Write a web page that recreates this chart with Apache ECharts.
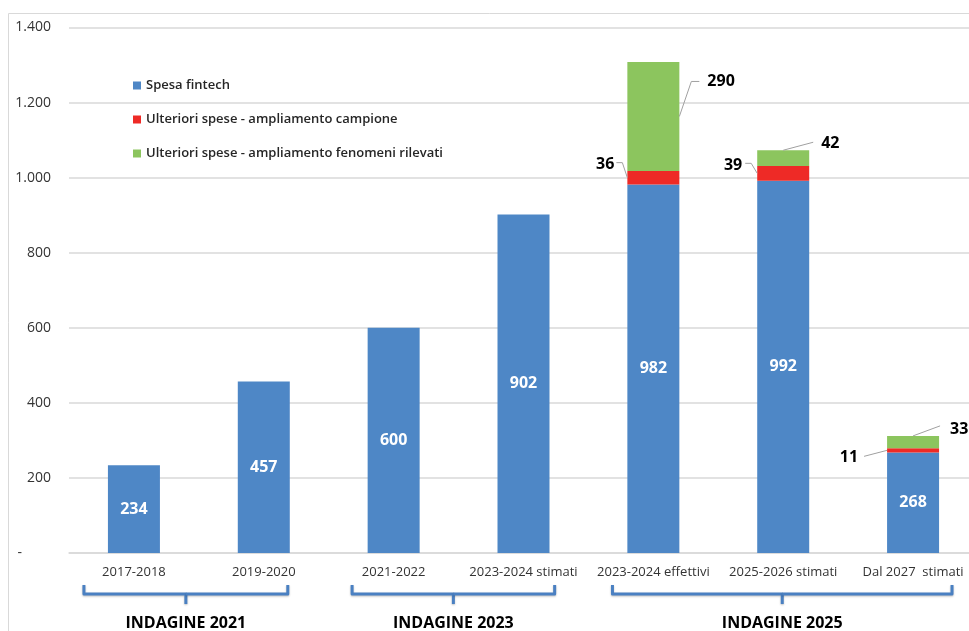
<!DOCTYPE html>
<html>
<head>
<meta charset="utf-8">
<script src="https://cdn.jsdelivr.net/npm/echarts@6/dist/echarts.min.js"></script>
<style>
html, body { margin: 0; padding: 0; background: #fff; }
#chart { width: 969px; height: 631px; }
</style>
</head>
<body>
<div id="chart"></div>
<script>
const categories = ['2017-2018', '2019-2020', '2021-2022', '2023-2024 stimati', '2023-2024 effettivi', '2025-2026 stimati', 'Dal 2027  stimati'];
const spesaFintech = [234, 457, 600, 902, 982, 992, 268];
const ampCampione = [null, null, null, null, 36, 39, 11];
const ampFenomeni = [null, null, null, null, 290, 42, 33];
const seriesNames = ['Spesa fintech', 'Ulteriori spese - ampliamento campione', 'Ulteriori spese - ampliamento fenomeni rilevati'];
const groupNames = ['INDAGINE 2021', 'INDAGINE 2023', 'INDAGINE 2025'];
const groupRanges = [[0, 1], [2, 3], [4, 6]];

const color = {
    blue: '#4E87C6',
    red: '#EE2A26',
    green: '#8CC55E',
    grid: '#D9D9D9',
    text: '#333333',
    guide: '#A0A0A0',
    bracket: '#4A80C2',
};
const font = "'Open Sans', 'Noto Sans', sans-serif";
const barWidth = 52;

// callout label offsets (dx, dy per data index)
const redOffsets = { 4: [-8, -13], 5: [-10, -8], 6: [-24, 7] };
const greenOffsets = { 4: [23, -35], 5: [7, -15], 6: [6, -13] };
// callout guide shapes: anchor on the segment + path offsets towards the label
const redGuides = { 4: [[-5, -15], [-11, -15]], 5: [[-6, -10], [-12, -10]], 6: [[-23, 6]] };
const greenGuides = {
    4: { anchor: 'side', pts: [[12, -35], [20, -35]] },
    5: { anchor: 'top', pts: [[30, -8]] },
    6: { anchor: 'top', pts: [[27, -10]] },
};
// bracket overhang (fraction of a category band) left / right of each group
const bracketPad = [[0.385, 0.185], [0.32, 0.24], [0.315, 0.3]];

const fmtThousands = function (v) {
    if (v === 0) return '-        ';
    return String(v).replace(/\B(?=(\d{3})+(?!\d))/g, '.');
};

const chart = echarts.init(document.getElementById('chart'), null, { renderer: 'canvas' });

const calloutLabel = {
    show: true,
    color: '#000',
    fontFamily: font,
    fontWeight: 'bold',
    fontSize: 16,
};

chart.setOption({
    animation: false,
    textStyle: { fontFamily: font },
    legend: {
        orient: 'vertical',
        left: 128,
        top: 74,
        itemWidth: 8,
        itemHeight: 8,
        itemGap: 21,
        icon: 'rect',
        textStyle: { color: '#262626', fontSize: 13, fontFamily: font, fontWeight: 600 },
        data: seriesNames,
    },
    grid: {
        left: 69,
        width: 909,
        top: 27.5,
        bottom: 78,
        containLabel: false,
        outerBoundsMode: 'none',
    },
    xAxis: {
        type: 'category',
        data: categories,
        axisLine: { show: true, lineStyle: { color: color.grid, width: 1.5 } },
        axisTick: { show: false },
        axisLabel: { color: color.text, fontSize: 13, margin: 13, fontFamily: font, interval: 0 },
    },
    yAxis: {
        type: 'value',
        min: 0,
        max: 1400,
        interval: 200,
        axisLine: { show: false },
        axisTick: { show: false },
        splitLine: { lineStyle: { color: color.grid, width: 1.5 } },
        axisLabel: { color: color.text, fontSize: 14, margin: 18, fontFamily: font, formatter: fmtThousands },
    },
    series: [
        {
            name: seriesNames[0],
            type: 'bar',
            stack: 'tot',
            barWidth: barWidth,
            itemStyle: { color: color.blue },
            label: {
                show: true,
                position: 'inside',
                color: '#fff',
                fontFamily: font,
                fontWeight: 'bold',
                fontSize: 16,
            },
            data: spesaFintech,
        },
        {
            name: seriesNames[1],
            type: 'bar',
            stack: 'tot',
            barWidth: barWidth,
            itemStyle: { color: color.red },
            label: Object.assign({ position: 'left', distance: 5 }, calloutLabel),
            labelLayout: function (params) {
                const o = redOffsets[params.dataIndex] || [0, 0];
                return { dx: o[0], dy: o[1] };
            },
            data: ampCampione,
        },
        {
            name: seriesNames[2],
            type: 'bar',
            stack: 'tot',
            barWidth: barWidth,
            itemStyle: { color: color.green },
            label: Object.assign({ position: 'right', distance: 5 }, calloutLabel),
            labelLayout: function (params) {
                const o = greenOffsets[params.dataIndex] || [0, 0];
                return { dx: o[0], dy: o[1] };
            },
            data: ampFenomeni,
        },
    ],
});

// frame, callout guides, brackets and group titles
const drawExtras = function () {
    const px = function (i) { return chart.convertToPixel({ xAxisIndex: 0 }, i); };
    const py = function (v) { return chart.convertToPixel({ yAxisIndex: 0 }, v); };
    const band = px(1) - px(0);
    const graphics = [{
        type: 'rect',
        shape: { x: 8.5, y: 13.5, width: 2000, height: 2000 },
        style: { fill: 'none', stroke: '#D9D9D9', lineWidth: 1 },
        silent: true,
        z: -10,
    }];
    const guideStyle = { stroke: color.guide, lineWidth: 1, fill: 'none' };
    categories.forEach(function (c, i) {
        if (ampCampione[i] != null) {
            const ax = px(i) - barWidth / 2;
            const ay = py(spesaFintech[i] + ampCampione[i] / 2);
            const pts = [[ax, ay]].concat(redGuides[i].map(function (p) { return [ax + p[0], ay + p[1]]; }));
            graphics.push({ type: 'polyline', shape: { points: pts }, style: guideStyle, silent: true, z: 10 });
        }
        if (ampFenomeni[i] != null) {
            const g = greenGuides[i];
            const base = spesaFintech[i] + (ampCampione[i] || 0);
            let ax, ay;
            if (g.anchor === 'side') {
                ax = px(i) + barWidth / 2;
                ay = py(base + ampFenomeni[i] / 2);
            } else {
                ax = px(i);
                ay = py(base + ampFenomeni[i]);
            }
            const pts = [[ax, ay]].concat(g.pts.map(function (p) { return [ax + p[0], ay + p[1]]; }));
            graphics.push({ type: 'polyline', shape: { points: pts }, style: guideStyle, silent: true, z: 10 });
        }
    });
    const lineStyle = { stroke: color.bracket, lineWidth: 3, fill: 'none', lineJoin: 'round', shadowColor: 'rgba(0,0,0,0.25)', shadowBlur: 2, shadowOffsetY: 1 };
    groupRanges.forEach(function (r, i) {
        const x1 = px(r[0]) - band * bracketPad[i][0];
        const x2 = px(r[1]) + band * bracketPad[i][1];
        const xc = (x1 + x2) / 2;
        const top = 585, mid = 594, bot = 604;
        graphics.push({
            type: 'polyline',
            shape: { points: [[x1, top], [x1, mid], [xc, mid], [xc, bot]] },
            style: lineStyle,
            silent: true,
        });
        graphics.push({
            type: 'polyline',
            shape: { points: [[x2, top], [x2, mid], [xc, mid]] },
            style: lineStyle,
            silent: true,
        });
        graphics.push({
            type: 'text',
            x: xc,
            y: 623,
            style: {
                text: groupNames[i],
                fill: '#000',
                font: "bold 16px 'Open Sans', sans-serif",
                textAlign: 'center',
                textVerticalAlign: 'middle',
            },
            silent: true,
        });
    });
    chart.setOption({ graphic: graphics });
};
drawExtras();
</script>
</body>
</html>
